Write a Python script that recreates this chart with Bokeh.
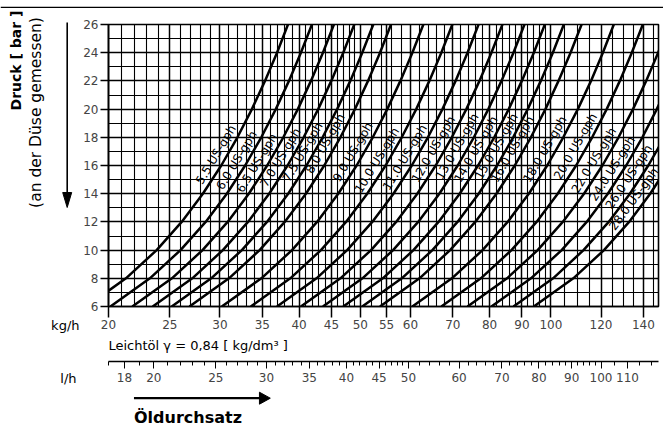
import numpy as np
from bokeh.plotting import figure
from bokeh.layouts import row, column
from bokeh.models import (Range1d, LogScale, LogAxis, FixedTicker, NumeralTickFormatter,
                          Title, ColumnDataSource)
from bokeh.embed import file_html
from bokeh.resources import INLINE
from bokeh.core.properties import value

# ---------------- data ----------------
pressure_bar = [6, 8, 10, 12, 14, 16, 18, 20, 22, 24, 26]

flow_5_5 = [18.46, 21.31, 23.83, 26.10, 28.19, 30.14, 31.97, 33.70, 35.34, 36.92, 38.42]
flow_6_0 = [20.14, 23.25, 25.99, 28.48, 30.76, 32.88, 34.87, 36.76, 38.56, 40.27, 41.92]
flow_6_5 = [21.81, 25.19, 28.16, 30.85, 33.32, 35.62, 37.78, 39.83, 41.77, 43.63, 45.41]
flow_7_0 = [23.49, 27.13, 30.32, 33.22, 35.88, 38.36, 40.68, 42.89, 44.98, 46.98, 48.90]
flow_7_5 = [25.17, 29.06, 32.49, 35.60, 38.45, 41.10, 43.59, 45.95, 48.20, 50.34, 52.40]
flow_8_0 = [26.85, 31.00, 34.66, 37.97, 41.01, 43.84, 46.50, 49.02, 51.41, 53.70, 55.89]
flow_9_0 = [30.20, 34.88, 38.99, 42.71, 46.13, 49.32, 52.31, 55.14, 57.83, 60.41, 62.87]
flow_10_0 = [33.56, 38.75, 43.32, 47.46, 51.26, 54.80, 58.12, 61.27, 64.26, 67.12, 69.86]
flow_11_0 = [36.92, 42.63, 47.65, 52.21, 56.39, 60.28, 63.93, 67.40, 70.69, 73.83, 76.85]
flow_12_0 = [40.27, 46.50, 51.98, 56.95, 61.51, 65.76, 69.74, 73.52, 77.11, 80.54, 83.83]
flow_13_0 = [43.63, 50.38, 56.32, 61.70, 66.64, 71.24, 75.56, 79.65, 83.54, 87.26, 90.82]
flow_14_0 = [46.98, 54.25, 60.65, 66.44, 71.76, 76.72, 81.37, 85.78, 89.96, 93.97, 97.80]
flow_15_0 = [50.34, 58.13, 64.98, 71.19, 76.89, 82.20, 87.18, 91.91, 96.39, 100.7, 104.8]
flow_16_0 = [53.70, 62.00, 69.31, 75.94, 82.02, 87.68, 92.99, 98.03, 102.8, 107.4, 111.8]
flow_18_0 = [60.41, 69.75, 77.98, 85.43, 92.27, 98.64, 104.6, 110.3, 115.7, 120.8, 125.7]
flow_20_0 = [67.12, 77.50, 86.64, 94.92, 102.5, 109.6, 116.2, 122.5, 128.5, 134.2, 139.7]
flow_22_0 = [73.83, 85.25, 95.30, 104.4, 112.8, 120.6, 127.9, 134.8, 141.4, 147.7, 153.7]
flow_24_0 = [80.54, 93.00, 104.0, 113.9, 123.0, 131.5, 139.5, 147.0, 154.2, 161.1, 167.7]
flow_26_0 = [87.26, 100.8, 112.6, 123.4, 133.3, 142.5, 151.1, 159.3, 167.1, 174.5, 181.6]
flow_28_0 = [93.97, 108.5, 121.3, 132.9, 143.5, 153.4, 162.7, 171.6, 179.9, 187.9, 195.6]

nozzle_names = ["5.5", "6.0", "6.5", "7.0", "7.5", "8.0", "9.0", "10.0", "11.0", "12.0",
                "13.0", "14.0", "15.0", "16.0", "18.0", "20.0", "22.0", "24.0", "26.0", "28.0"]
nozzle_flows = [flow_5_5, flow_6_0, flow_6_5, flow_7_0, flow_7_5, flow_8_0, flow_9_0,
                flow_10_0, flow_11_0, flow_12_0, flow_13_0, flow_14_0, flow_15_0, flow_16_0,
                flow_18_0, flow_20_0, flow_22_0, flow_24_0, flow_26_0, flow_28_0]

kg_ticks = [20, 25, 30, 35, 40, 45, 50, 55, 60, 70, 80, 90, 100, 120, 140]
lh_ticks = [18, 20, 25, 30, 35, 40, 45, 50, 60, 70, 80, 90, 100, 110]
bar_ticks = [6, 8, 10, 12, 14, 16, 18, 20, 22, 24, 26]

# label placement (pressure along each curve) - layout only
label_bar = [16.4, 16.0, 15.8, 16.2, 16.6, 17.2, 16.6, 16.0, 16.2, 16.8,
             17.0, 16.8, 17.0, 16.8, 16.8, 17.0, 16.0, 15.4, 14.8, 13.2]
LABEL_GAP = 10  # px between curve and label centre line

FONT = "DejaVu Sans"
PAGE_W, PAGE_H = 663, 426
TOP_H = 8
LEFT_W = 80
BOTTOM_H = 38
MAIN_W = PAGE_W - LEFT_W
MAIN_H = PAGE_H - TOP_H - BOTTOM_H


def blank_fig(w, h, x0, x1, y0, y1):
    f = figure(width=w, height=h, x_range=Range1d(x0, x1), y_range=Range1d(y0, y1),
               output_backend="svg", toolbar_location=None, x_axis_location=None,
               y_axis_location=None, min_border=0)
    f.grid.visible = False
    f.outline_line_color = None
    f.background_fill_color = "white"
    f.border_fill_color = "white"
    return f


# ---------------- main chart ----------------
BL, BR, BT, BB = 27, 5, 16, 82
X0, X1 = 20.0, 147.9
Y0, Y1 = 6, 26
FW = MAIN_W - BL - BR
FH = MAIN_H - BT - BB
PXD = FW / np.log10(X1 / X0)      # px per decade
PXB = FH / (Y1 - Y0)              # px per bar

p = figure(width=MAIN_W, height=MAIN_H, x_axis_type="log", x_range=Range1d(X0, X1),
           y_range=Range1d(Y0, Y1), output_backend="svg", toolbar_location=None,
           min_border_left=BL, min_border_right=BR, min_border_top=BT,
           min_border_bottom=BB)
p.background_fill_color = "white"
p.border_fill_color = "white"
p.outline_line_color = "black"
p.outline_line_width = 1.6

# grid
x_major = [20, 25, 30, 35, 40, 45, 50, 55, 60, 70, 80, 90, 100, 120, 140]
x_minor = ([v for v in range(21, 50) if v % 5] +
           [52, 54, 56, 58, 62, 64, 66, 68, 72, 74, 76, 78, 82, 84, 86, 88, 92, 94, 96, 98] +
           [105, 110, 115, 125, 130, 135, 145])
p.xgrid.ticker = FixedTicker(ticks=x_major, minor_ticks=x_minor)
p.xgrid.grid_line_color = "black"
p.xgrid.grid_line_width = 1.5
p.xgrid.minor_grid_line_color = "black"
p.xgrid.minor_grid_line_width = 1.1
p.ygrid.ticker = FixedTicker(ticks=bar_ticks, minor_ticks=list(range(7, 26, 2)))
p.ygrid.grid_line_color = "black"
p.ygrid.grid_line_width = 1.6
p.ygrid.minor_grid_line_color = "black"
p.ygrid.minor_grid_line_width = 1.1

# curves
for fl in nozzle_flows:
    p.line(fl, pressure_bar, line_color="black", line_width=2.5)

# curve labels: centred beside each curve, parallel to it
lx, ly, la, lt = [], [], [], []
for name, fl, pb in zip(nozzle_names, nozzle_flows, label_bar):
    q = float(np.exp(np.interp(pb, pressure_bar, np.log(fl))))
    dxdp = PXD * 0.5 / (pb * np.log(10))
    th = float(np.arctan(PXB / dxdp))
    lx.append(q * 10 ** (-LABEL_GAP * np.sin(th) / PXD))
    ly.append(pb + LABEL_GAP * np.cos(th) / PXB)
    la.append(th)
    lt.append(name + " US-gph")
src = ColumnDataSource(dict(x=lx, y=ly, a=la, t=lt))
p.text(x="x", y="y", text="t", angle="a", source=src,
       text_font=value(FONT), text_font_size="12px", text_color="black",
       text_align="center", text_baseline="middle")

# y axis
ya = p.yaxis[0]
ya.ticker = FixedTicker(ticks=bar_ticks, minor_ticks=[])
ya.major_label_text_font = FONT
ya.major_label_text_font_size = "12px"
ya.major_tick_out = 8
ya.major_tick_in = 0
ya.major_label_standoff = 2
ya.axis_line_width = 1.6
ya.major_tick_line_width = 1.3

# x axis (kg/h)
xa = p.xaxis[0]
xa.ticker = FixedTicker(ticks=kg_ticks, minor_ticks=[])
xa.formatter = NumeralTickFormatter(format="0")
xa.major_label_text_font = FONT
xa.major_label_text_font_size = "12px"
xa.major_tick_out = 11
xa.major_tick_in = 0
xa.major_label_standoff = 2
xa.axis_line_width = 1.6
xa.major_tick_line_width = 1.5

# oil density note between the two flow scales
p.add_layout(Title(text="Leichtöl γ = 0,84 [ kg/dm³ ]", align="left", offset=0,
                   vertical_align="top", standoff=13, text_font=FONT,
                   text_font_size="13px", text_font_style="normal", text_color="black"),
             "below")

# second x axis (l/h)
LH0 = 10 ** ((LEFT_W + BL + 681.6) / 641.0)
LH1 = 10 ** ((PAGE_W - BR + 681.6) / 641.0)
p.extra_x_ranges = {"lh": Range1d(LH0, LH1)}
p.extra_x_scales = {"lh": LogScale()}
lh_minor = ([17, 19, 21, 22, 23, 24, 26, 27, 28, 29, 31, 32, 33, 34, 36, 37, 38, 39,
             41, 42, 43, 44, 46, 47, 48, 49, 52, 54, 56, 58, 62, 64, 66, 68, 72, 74, 76, 78,
             82, 84, 86, 88, 92, 94, 96, 98, 105, 115, 120])
la2 = LogAxis(x_range_name="lh", ticker=FixedTicker(ticks=lh_ticks, minor_ticks=lh_minor),
              formatter=NumeralTickFormatter(format="0"))
la2.major_label_text_font = FONT
la2.major_label_text_font_size = "12px"
la2.major_tick_out = 7
la2.major_tick_in = 0
la2.minor_tick_out = 4
la2.minor_tick_in = 0
la2.major_label_standoff = 4
la2.axis_line_width = 1.4
p.add_layout(la2, "below")

# ---------------- top rule ----------------
top = blank_fig(PAGE_W, TOP_H, 0, PAGE_W, TOP_H, 0)
top.line([0, PAGE_W], [3, 3], line_color="black", line_width=1.5)

# ---------------- left strip (page coordinates) ----------------
left = blank_fig(LEFT_W, PAGE_H - TOP_H, 0, LEFT_W, PAGE_H, TOP_H)
left.text(x=[15.5], y=[60], text=["Druck [ bar ]"], angle=np.pi / 2,
          text_font=value(FONT), text_font_size="14px", text_font_style="bold",
          text_align="center", text_baseline="middle", text_color="black")
left.text(x=[35], y=[112], text=["(an der Düse gemessen)"], angle=np.pi / 2,
          text_font=value(FONT), text_font_size="15.5px",
          text_align="center", text_baseline="middle", text_color="black")
left.line([66.7, 66.7], [22, 195], line_color="black", line_width=1.6)
left.patch([62.2, 71.2, 66.7], [192, 192, 207], fill_color="black", line_color="black")
left.text(x=[79], y=[325], text=["kg/h"], text_font=value(FONT), text_font_size="13px",
          text_align="right", text_baseline="middle", text_color="black")
left.text(x=[76], y=[378], text=["l/h"], text_font=value(FONT), text_font_size="13px",
          text_align="right", text_baseline="middle", text_color="black")

# ---------------- bottom strip (page coordinates) ----------------
bot = blank_fig(MAIN_W, BOTTOM_H, LEFT_W, PAGE_W, PAGE_H, PAGE_H - BOTTOM_H)
bot.line([107, 242], [397.7, 397.7], line_color="black", line_width=2.2)
bot.patch([240, 240, 251.5], [391.7, 403.7, 397.7], fill_color="black", line_color="black")
bot.text(x=[107], y=[417], text=["Öldurchsatz"], text_font=value(FONT),
         text_font_size="16px", text_font_style="bold", text_align="left",
         text_baseline="middle", text_color="black")

layout = column(top, row(left, column(p, bot, spacing=0), spacing=0), spacing=0)

open("out.html", "w").write(file_html(layout, INLINE))
